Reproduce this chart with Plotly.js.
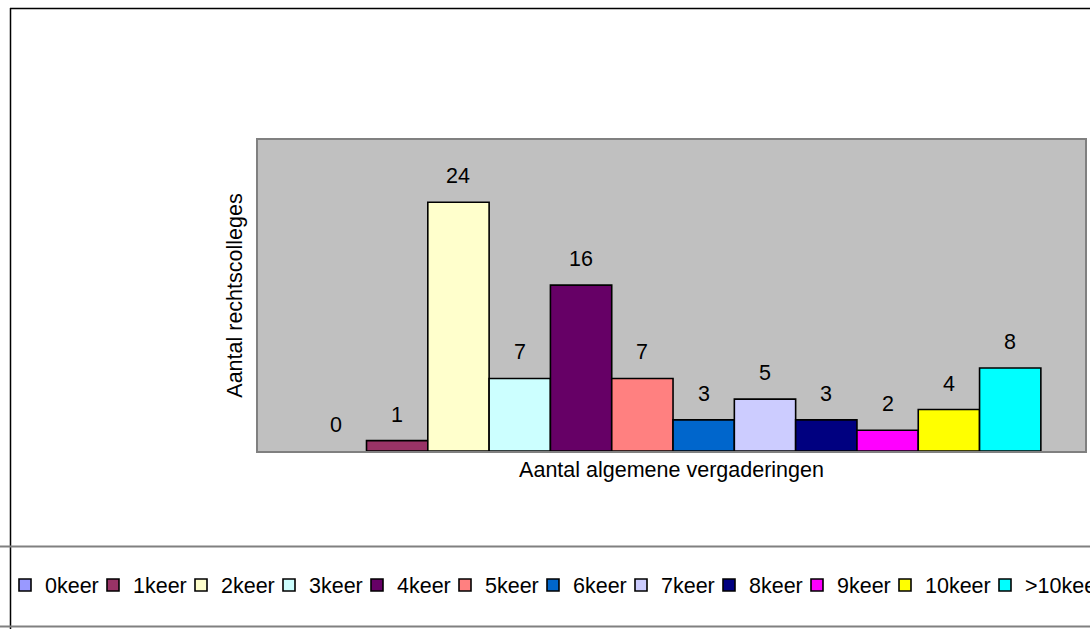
<!DOCTYPE html>
<html>
<head>
<meta charset="utf-8">
<script src="https://cdn.plot.ly/plotly-3.0.1.min.js"></script>
<style>
  html, body { margin: 0; padding: 0; background: #ffffff; }
  #chart { width: 1090px; height: 629px; }
</style>
</head>
<body>
<div id="chart"></div>
<script>
// ---- data ----
var categories = ["0keer", "1keer", "2keer", "3keer", "4keer", "5keer", "6keer", "7keer", "8keer", "9keer", "10keer", ">10keer"];
var values = [0, 1, 24, 7, 16, 7, 3, 5, 3, 2, 4, 8];
var colors = ["#9999FF", "#993366", "#FFFFCC", "#CCFFFF", "#660066", "#FF8080", "#0066CC", "#CCCCFF", "#000080", "#FF00FF", "#FFFF00", "#00FFFF"];
var xTitle = "Aantal algemene vergaderingen";
var yTitle = "Aantal rechtscolleges";

// ---- layout geometry ----
var W = 1090, H = 629;
var L = 258, R = 1085, T = 140, B = 451;
var FONT = '"Liberation Sans", Arial, sans-serif';
var FS = 21.5;
function px2x(px) { return (px - L) / (R - L); }
function py2y(py) { return (B - py) / (B - T); }

// legend entry widths (px) — wider for longer labels, last entry clipped at the page edge
var ENTRY = 43;
var legendWidths = { "10keer": 55, ">10keer": 60 };

var traces = categories.map(function (c, i) {
  var t = {
    type: "bar",
    name: c,
    x: [c],
    // a zero-height bar is not drawn (no outline along the axis), as in the original
    y: [values[i] === 0 ? null : values[i]],
    width: 1,
    marker: { color: colors[i], line: { color: "#000000", width: 1.6 } },
    hoverinfo: "x+y"
  };
  if (legendWidths[c]) t.legendwidth = legendWidths[c];
  return t;
});

var annotations = categories.map(function (c, i) {
  return {
    x: c, y: values[i], xref: "x", yref: "y",
    text: String(values[i]), showarrow: false,
    yanchor: "middle", yshift: 26,
    font: { family: FONT, size: FS, color: "#000000" }
  };
});

var shapes = [
  // outer frame top and left
  { type: "line", xref: "paper", yref: "paper", x0: px2x(10), x1: px2x(1095), y0: py2y(8.5), y1: py2y(8.5), line: { color: "#000000", width: 1.5 } },
  { type: "line", xref: "paper", yref: "paper", x0: px2x(10.5), x1: px2x(10.5), y0: py2y(8), y1: py2y(635), line: { color: "#000000", width: 1.5 } },
  // legend box lines
  { type: "line", xref: "paper", yref: "paper", x0: px2x(0), x1: px2x(1095), y0: py2y(546.5), y1: py2y(546.5), line: { color: "#808080", width: 2 } },
  { type: "line", xref: "paper", yref: "paper", x0: px2x(0), x1: px2x(1095), y0: py2y(626.5), y1: py2y(626.5), line: { color: "#808080", width: 2 } }
];

var layout = {
  width: W, height: H,
  margin: { l: L, r: W - R, t: T, b: H - B, pad: 0 },
  paper_bgcolor: "#ffffff",
  plot_bgcolor: "#C0C0C0",
  font: { family: FONT, size: FS, color: "#000000" },
  barmode: "overlay",
  bargap: 0,
  showlegend: true,
  legend: {
    orientation: "h",
    x: px2x(6), xanchor: "left",
    y: py2y(585), yanchor: "middle",
    bgcolor: "rgba(0,0,0,0)",
    borderwidth: 0,
    entrywidth: ENTRY,
    entrywidthmode: "pixels",
    itemwidth: 30,
    itemclick: false,
    font: { family: FONT, size: FS, color: "#000000" }
  },
  xaxis: {
    type: "category",
    categoryorder: "array",
    categoryarray: categories,
    range: [-1.27, 12.22],
    showticklabels: false,
    ticks: "",
    showgrid: false,
    zeroline: false,
    showline: true, mirror: true, linecolor: "#808080", linewidth: 2,
    layer: "below traces",
    fixedrange: true,
    automargin: false,
    title: { text: xTitle, standoff: 10, font: { family: FONT, size: FS, color: "#000000" } }
  },
  yaxis: {
    range: [0, 30],
    showticklabels: false,
    ticks: "",
    showgrid: false,
    zeroline: false,
    showline: true, mirror: true, linecolor: "#808080", linewidth: 2,
    layer: "below traces",
    fixedrange: true,
    automargin: false,
    title: { text: yTitle, standoff: 7, font: { family: FONT, size: FS, color: "#000000" } }
  },
  annotations: annotations,
  shapes: shapes
};

Plotly.newPlot("chart", traces, layout, { displayModeBar: false, staticPlot: true });
</script>
</body>
</html>
